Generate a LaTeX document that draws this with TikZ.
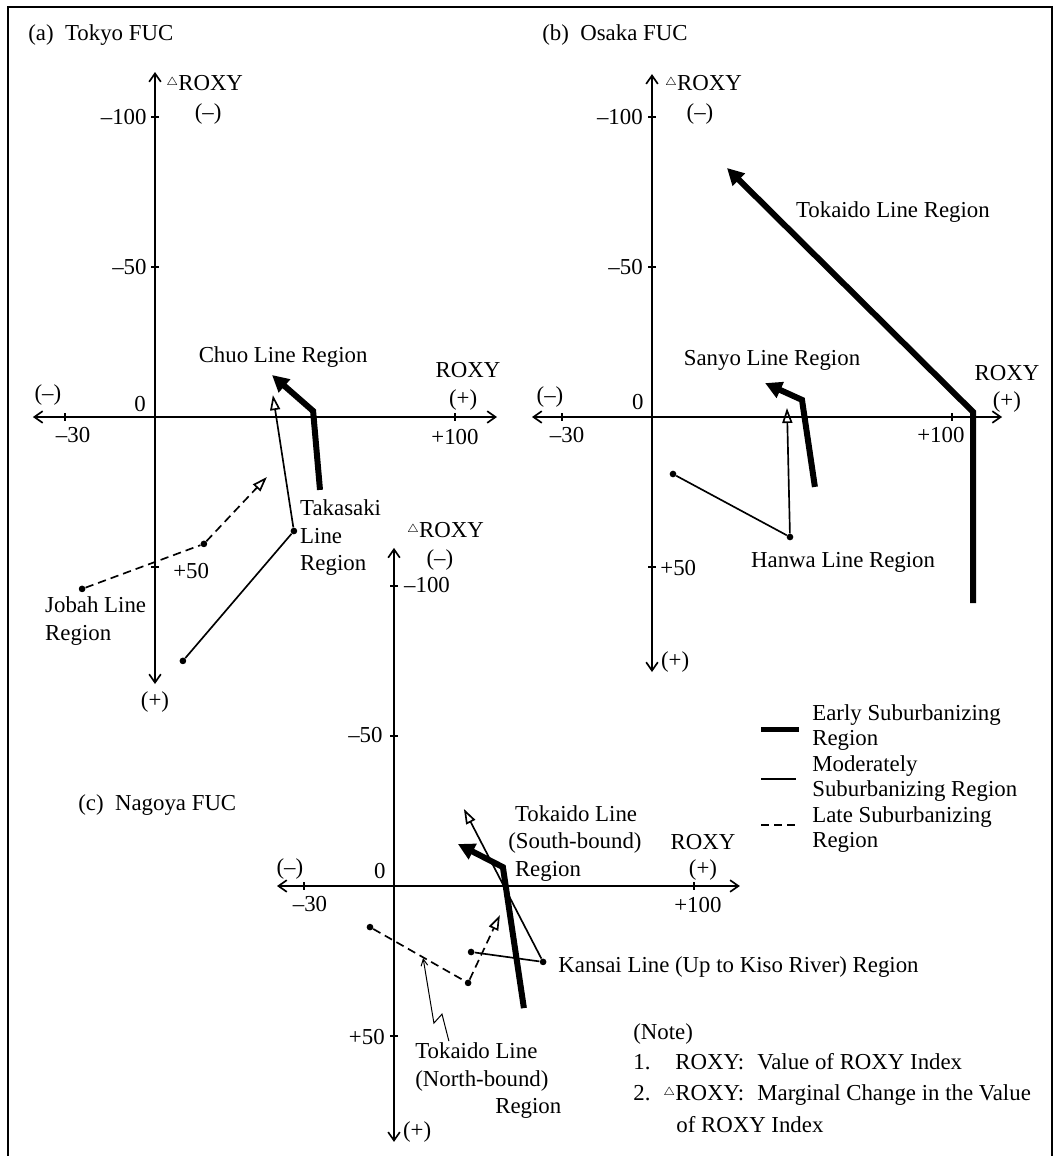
\documentclass[tikz,border=0pt]{standalone}
\usepackage{fontspec}
\setmainfont{Liberation Serif}
\usetikzlibrary{arrows.meta}

\newcommand{\dtri}{\raisebox{0.45ex}{$\scriptscriptstyle\triangle$}}

\tikzset{
  axis/.style={line width=1pt, {Straight Barb[length=5pt,width=7pt]}-{Straight Barb[length=5pt,width=7pt]}},
  tick/.style={line width=0.8pt},
  early/.style={line width=3.6pt, -{Triangle[length=10pt,width=10pt]}},
  moderate/.style={line width=1pt, -{Triangle[open,length=9pt,width=6pt]}},
  late/.style={moderate, dash pattern=on 5pt off 3pt},
  dot/.style={circle, fill, inner sep=0pt, minimum size=4pt},
  lbl/.style={inner sep=0pt, text height=8.8pt, text depth=0pt},
  block/.style={inner sep=0pt, align=left, anchor=west},
}

\begin{document}
\begin{tikzpicture}[x=0.6pt, y=-0.6pt, font=\fontsize{13.7}{16.5}\selectfont]

 \useasboundingbox (0,0) rectangle (1055,1156);

 % frame, open at the bottom
 \coordinate (fbl) at (8,1156);
 \coordinate (ftl) at (8,7);
 \coordinate (ftr) at (1052,7);
 \coordinate (fbr) at (1052,1156);
 \draw[line width=1.1pt] (fbl) -- (ftl) -- (ftr) -- (fbr);

 \node[lbl, anchor=west] (titlea) at (28,33) {(a)\ \ Tokyo FUC};
 \node[lbl, anchor=west] (titleb) at (542,33) {(b)\ \ Osaka FUC};
 \node[lbl, anchor=west] (titlec) at (78,803) {(c)\ \ Nagoya FUC};

 %%% (a) Tokyo
 \begin{scope}[shift={(155,417)}, x=1.8pt, y=-1.8pt]

  \coordinate (xal) at (-40.7,0);
  \coordinate (xar) at (114,0);
  \coordinate (yat) at (0,-115);
  \coordinate (yab) at (0,89);
  \draw[axis] (xal) -- (xar);
  \draw[axis] (yab) -- (yat);
  \foreach \t in {-30,100} \draw[tick] (\t,-1.3) -- (\t,1.3);
  \foreach \t in {-100,-50,50} \draw[tick] (-1.3,\t) -- (1.3,\t);

  \node[lbl, anchor=east] (ya100) at (-2.7,-100) {--100};
  \node[lbl, anchor=east] (ya50) at (-2.7,-50) {--50};
  \node[lbl, anchor=west] (yap50) at (6,51.5) {+50};
  \node[lbl] (oa) at (-5,-4.3) {0};
  \node[lbl] (xa30) at (-27.3,6) {--30};
  \node[lbl] (xa100) at (100,6.7) {+100};
  \node[lbl] (xaneg) at (-35.7,-8) {(--)};
  \node[lbl] (xapos) at (102.7,-6.3) {(+)};
  \node[lbl] (xaname) at (104.3,-15.7) {ROXY};
  \node[lbl, anchor=west] (yaname) at (3.7,-111.3) {\dtri ROXY};
  \node[lbl] (yaneg) at (17.7,-101.7) {(--)};
  \node[lbl] (yapos) at (0,94.3) {(+)};

  \coordinate (chuo1) at (55,24.3);
  \coordinate (chuo2) at (52.7,-2);
  \coordinate (chuo3) at (39,-14);
  \draw[early] (chuo1) -- (chuo2) -- (chuo3);
  \node[lbl] (chuo) at (42.7,-20.7) {Chuo Line Region};

  \node[dot] (taka1) at (9.3,81.3) {};
  \node[dot] (taka2) at (46.3,38) {};
  \coordinate (taka3) at (39.3,-7.3);
  \draw[moderate] (taka1) -- (taka2) -- (taka3);
  \node[block] (taka) at (48.3,40.2) {Takasaki\\Line\\Region};

  \node[dot] (jobah1) at (-24.3,57.3) {};
  \node[dot] (jobah2) at (16.3,42.3) {};
  \coordinate (jobah3) at (37.3,20);
  \draw[late] (jobah1) -- (jobah2) -- (jobah3);
  \node[block] (jobah) at (-36.7,68) {Jobah Line\\Region};

 \end{scope}

 %%% (b) Osaka
 \begin{scope}[shift={(652,417)}, x=1.8pt, y=-1.8pt]

  \coordinate (xbl) at (-40,0);
  \coordinate (xbr) at (116.7,0);
  \coordinate (ybt) at (0,-114.3);
  \coordinate (ybb) at (0,85);
  \draw[axis] (xbl) -- (xbr);
  \draw[axis] (ybb) -- (ybt);
  \foreach \t in {-30,100} \draw[tick] (\t,-1.3) -- (\t,1.3);
  \foreach \t in {-100,-50,50} \draw[tick] (-1.3,\t) -- (1.3,\t);

  \node[lbl, anchor=east] (yb100) at (-3,-100) {--100};
  \node[lbl, anchor=east] (yb50) at (-3,-50) {--50};
  \node[lbl, anchor=west] (ybp50) at (2.7,50.3) {+50};
  \node[lbl] (ob) at (-4.7,-5) {0};
  \node[lbl] (xb30) at (-28.3,6) {--30};
  \node[lbl] (xb100) at (96.3,6) {+100};
  \node[lbl] (xbneg) at (-34,-7.3) {(--)};
  \node[lbl] (xbpos) at (118.3,-5.7) {(+)};
  \node[lbl] (xbname) at (118.3,-14.7) {ROXY};
  \node[lbl, anchor=west] (ybname) at (4.3,-111.3) {\dtri ROXY};
  \node[lbl] (ybneg) at (16,-101.7) {(--)};
  \node[lbl] (ybpos) at (7.7,81) {(+)};

  \coordinate (toka1) at (107,62);
  \coordinate (toka2) at (107,-1.7);
  \coordinate (toka3) at (25,-83);
  \draw[early] (toka1) -- (toka2) -- (toka3);
  \node[lbl] (toka) at (80.3,-69) {Tokaido Line Region};

  \coordinate (sanyo1) at (54.3,23.3);
  \coordinate (sanyo2) at (50,-5.7);
  \coordinate (sanyo3) at (37.7,-11.3);
  \draw[early] (sanyo1) -- (sanyo2) -- (sanyo3);
  \node[lbl] (sanyo) at (40,-19.7) {Sanyo Line Region};

  \node[dot] (hanwa1) at (7,19) {};
  \node[dot] (hanwa2) at (46,40) {};
  \coordinate (hanwa3) at (45,-3);
  \draw[moderate] (hanwa1) -- (hanwa2) -- (hanwa3);
  \node[lbl] (hanwa) at (63.7,47.7) {Hanwa Line Region};

 \end{scope}

 %%% (c) Nagoya
 \begin{scope}[shift={(394,886)}, x=1.8pt, y=-1.8pt]

  \coordinate (xcl) at (-39,0);
  \coordinate (xcr) at (115.3,0);
  \coordinate (yct) at (0,-112.7);
  \coordinate (ycb) at (0,85.3);
  \draw[axis] (xcl) -- (xcr);
  \draw[axis] (ycb) -- (yct);
  \foreach \t in {-30,100} \draw[tick] (\t,-1.3) -- (\t,1.3);
  \foreach \t in {-100,-50,50} \draw[tick] (-1.3,\t) -- (1.3,\t);

  \node[lbl, anchor=west] (yc100) at (3.3,-100.3) {--100};
  \node[lbl, anchor=east] (yc50) at (-3.7,-50.3) {--50};
  \node[lbl, anchor=east] (ycp50) at (-3,50.3) {+50};
  \node[lbl] (oc) at (-4.7,-5) {0};
  \node[lbl] (xc30) at (-28,6) {--30};
  \node[lbl] (xc100) at (101.3,6.3) {+100};
  \node[lbl] (xcneg) at (-34.7,-6.3) {(--)};
  \node[lbl] (xcpos) at (103,-6) {(+)};
  \node[lbl] (xcname) at (103,-14.7) {ROXY};
  \node[lbl, anchor=west] (ycname) at (4.3,-118.7) {\dtri ROXY};
  \node[lbl] (ycneg) at (15.3,-109.3) {(--)};
  \node[lbl] (ycpos) at (7.7,81.3) {(+)};

  \coordinate (south1) at (43.3,40.7);
  \coordinate (south2) at (36.3,-6.3);
  \coordinate (south3) at (21.3,-14);
  \draw[early] (south1) -- (south2) -- (south3);
  \node[block] (south) at (38,-14.3) {\hspace*{4pt}Tokaido Line\\(South-bound)\\\hspace*{4pt}Region};

  \node[dot] (kansai1) at (25.7,22) {};
  \node[dot] (kansai2) at (49.7,25.3) {};
  \coordinate (kansai3) at (23.3,-25.7);
  \draw[moderate] (kansai1) -- (kansai2) -- (kansai3);
  \node[lbl, anchor=west] (kansai) at (54.7,26.3) {Kansai Line (Up to Kiso River) Region};

  \node[dot] (north1) at (-8,13.7) {};
  \node[dot] (north2) at (24.7,32.3) {};
  \coordinate (north3) at (35.3,9.7);
  \draw[late] (north1) -- (north2) -- (north3);
  \node[block] (north) at (7,65) {Tokaido Line\\(North-bound)\\\hspace*{48pt}Region};

  % zigzag leader to the north-bound line
  \coordinate (lead1) at (18.3,51.7);
  \coordinate (lead2) at (16,42.7);
  \coordinate (lead3) at (13.3,45.7);
  \coordinate (lead4) at (9.7,24);
  \draw[line width=0.6pt, -{Straight Barb[length=4pt,width=4pt]}] (lead1) -- (lead2) -- (lead3) -- (lead4);

 \end{scope}

 %%% legend
 \coordinate (lg1a) at (761,729);
 \coordinate (lg1b) at (799,729);
 \coordinate (lg2a) at (761,779);
 \coordinate (lg2b) at (796,779);
 \coordinate (lg3a) at (761,825);
 \coordinate (lg3b) at (797,825);
 \draw[line width=3pt] (lg1a) -- (lg1b);
 \draw[line width=1pt] (lg2a) -- (lg2b);
 \draw[line width=1pt, dash pattern=on 4.8pt off 3pt] (lg3a) -- (lg3b);
 \node[block, font=\fontsize{13.7}{15.3}\selectfont] (legend) at (812,778.5)
   {Early Suburbanizing\\Region\\Moderately\\Suburbanizing Region\\Late Suburbanizing\\Region};

 %%% notes
 \node[lbl, anchor=west] (note) at (633,1032) {(Note)};
 \node[lbl, anchor=west] (note1) at (633,1062) {1.};
 \node[lbl, anchor=west] (note1a) at (675,1062) {ROXY:};
 \node[lbl, anchor=west] (note1b) at (757,1062) {Value of ROXY Index};
 \node[lbl, anchor=west] (note2) at (633,1093) {2.};
 \node[lbl, anchor=west] (note2a) at (675,1093) {\llap{\dtri}ROXY:};
 \node[lbl, anchor=west] (note2b) at (757,1093) {Marginal Change in the Value};
 \node[lbl, anchor=west] (note2c) at (676,1125) {of ROXY Index};

\end{tikzpicture}
\end{document}
